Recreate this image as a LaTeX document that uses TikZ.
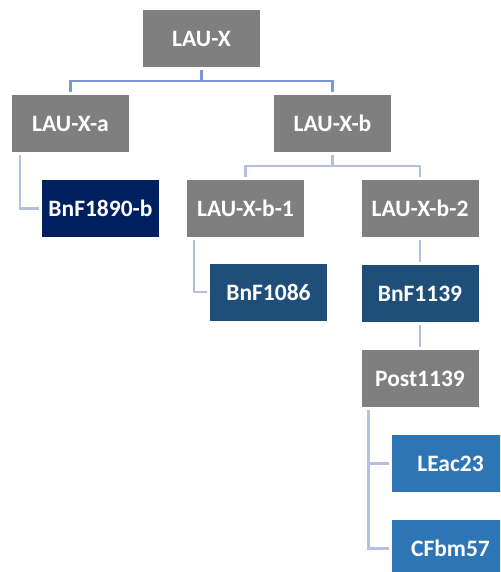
\documentclass[tikz,border=0pt]{standalone}
\usepackage{fontspec}
\setmainfont{Carlito}
\definecolor{boxgray}{RGB}{127,127,127}
\definecolor{navy}{RGB}{0,32,96}
\definecolor{midblue}{RGB}{31,78,121}
\definecolor{lightblue}{RGB}{46,117,182}
\definecolor{linkdark}{RGB}{122,150,214}
\definecolor{linklight}{RGB}{180,192,226}
\begin{document}
\begin{tikzpicture}[x=0.5pt, y=-0.5pt,
    box/.style={fill=boxgray, text=white, font=\fontsize{11.75}{14}\selectfont\bfseries,
                minimum width=58.5pt, minimum height=28.5pt, inner sep=0pt, outer sep=1.5pt},
    wit/.style={box, fill=#1},
    toplink/.style={draw=linkdark, line width=1.4pt},
    link/.style={draw=linklight, line width=1.3pt}]
    \useasboundingbox (0,0) rectangle (500,572);
    \clip (0,0) rectangle (500,572);

    \node[box] (X)   at (201.5, 38.5) {LAU-X};
    \node[box] (Xa)  at (70.5, 123.5) {LAU-X-a};
    \node[box] (Xb)  at (332.5, 123.5) {LAU-X-b};
    \node[wit=navy] (BnF1890b) at (100.5, 208.5) {BnF1890-b};
    \node[box] (Xb1) at (245.5, 208.5) {LAU-X-b-1};
    \node[box] (Xb2) at (420, 208.5) {LAU-X-b-2};
    \node[wit=midblue] (BnF1086) at (268.5, 292) {BnF1086};
    \node[wit=midblue] (BnF1139) at (420, 293.5) {BnF1139};
    \node[box] (Post1139) at (420, 378.5) {Post1139};
    \node[wit=lightblue] (LEac23) at (450.5, 463.5) {LEac23};
    \node[wit=lightblue] (CFbm57) at (450.5, 548.5) {CFbm57};

    \draw[toplink] (X.south) -- ++(0,11) -| (Xa.north);
    \draw[toplink] (X.south) -- ++(0,11) -| (Xb.north);
    \draw[link] (Xb.south) -- ++(0,11) -| (Xb1.north);
    \draw[link] (Xb.south) -- ++(0,11) -| (Xb2.north);

    \draw[link] ([xshift=5.5pt]Xa.south west) |- (BnF1890b.west);
    \draw[link] ([xshift=5pt]Xb1.south west) |- (BnF1086.west);
    \draw[link] (Xb2) -- (BnF1139);
    \draw[link] (BnF1139) -- (Post1139);
    \draw[link] ([xshift=5pt]Post1139.south west) |- (LEac23.west);
    \draw[link] ([xshift=5pt]Post1139.south west) |- (CFbm57.west);
\end{tikzpicture}
\end{document}
